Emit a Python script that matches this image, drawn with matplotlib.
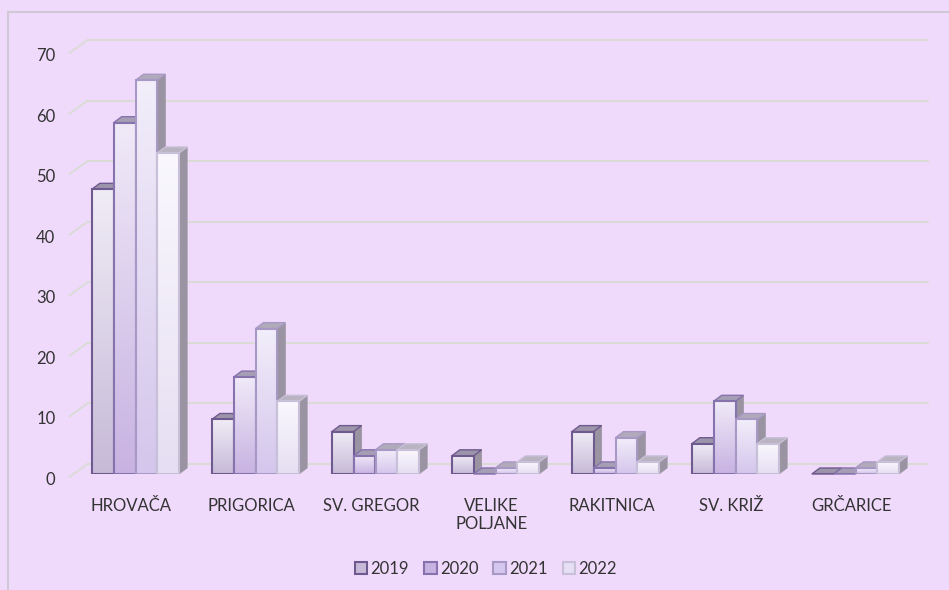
import numpy as np
import matplotlib
matplotlib.use('Agg')
import matplotlib.pyplot as plt
from matplotlib.patches import Polygon, Rectangle
from matplotlib.transforms import ScaledTranslation
from matplotlib.colors import LinearSegmentedColormap

plt.rcParams['font.family'] = ['Lato', 'DejaVu Sans']

mjesta = ['HROVAČA', 'PRIGORICA', 'SV. GREGOR', 'VELIKE\nPOLJANE',
          'RAKITNICA', 'SV. KRIŽ', 'GRČARICE']
godine = ['2019', '2020', '2021', '2022']
v2019 = [47, 9, 7, 3, 7, 5, 0]
v2020 = [58, 16, 3, 0, 1, 12, 0]
v2021 = [65, 24, 4, 1, 6, 9, 1]
v2022 = [53, 12, 4, 2, 2, 5, 2]
serije = [v2019, v2020, v2021, v2022]
y_ticks = [0, 10, 20, 30, 40, 50, 60, 70]

# boje: rub, vrh gradijenta, dno gradijenta, gornja ploha
rubovi = ['#6E5A8E', '#8672AC', '#A898C6', '#C8C0D8']
svijetle = ['#F0ECF6', '#F0EAF8', '#F2EEFA', '#FAF8FE']
tamne = ['#C6BAD8', '#C8B2E2', '#D4C6EC', '#E6DEF2']
vrhovi = ['#9C94AA', '#A69EB4', '#B0AABA', '#BAB4C2']
bok = '#9A94A2'
pozadina = '#F0DAFC'
mreza = '#D8DCD4'

W, H = 949, 590
fig = plt.figure(figsize=(W / 100, H / 100), dpi=100)
fig.patch.set_facecolor(pozadina)
fig.patches.append(Rectangle((8 / W, -0.1), 1.1, 1 - 12 / H + 0.1, transform=fig.transFigure,
                             fill=False, edgecolor='#D0C8D4', linewidth=1.5))

ax = fig.add_axes([75.5 / W, 116 / H, 840 / W, 424 / H])
ax.set_facecolor('none')
ax.set_xlim(-0.5, len(mjesta) - 0.5)
ax.set_ylim(0, 70)
for s in ax.spines.values():
    s.set_visible(False)
ax.set_yticks([])

def px(dx, dy):
    return ax.transData + ScaledTranslation(dx / 100, dy / 100, fig.dpi_scale_trans)

# zadnji zid: mreza i kose linije lijevog zida
x0, x1 = ax.get_xlim()
for t in y_ticks:
    ax.plot([x0, x1], [t, t], color=mreza, lw=1.3, transform=px(12, 10), zorder=1,
            clip_on=False)
    lijevo_front = px(-6, -3).transform((x0, t))
    lijevo_back = px(12, 10).transform((x0, t))
    ax.plot([lijevo_front[0], lijevo_back[0]], [lijevo_front[1], lijevo_back[1]],
            color=mreza, lw=1.3, transform=None, zorder=1, clip_on=False)
    ax.text(x0, t, str(t), transform=px(-20, -6), ha='right', va='center',
            fontsize=12, color='#333333')

# dubina stupaca u jedinicama podataka
sx = 840 / (x1 - x0)
sy = 424 / 70
ddx = 8 / sx
ddy = 6 / sy

sirina = 0.182
x = np.arange(len(mjesta))
grad = np.linspace(0, 1, 256).reshape(-1, 1)
for k, vals in enumerate(serije):
    cmap = LinearSegmentedColormap.from_list('g%d' % k, [tamne[k], svijetle[k]])
    for i, v in enumerate(vals):
        xl = x[i] + (k - 2) * sirina
        xr = xl + sirina
        z = 2 + k * 3
        ax.add_patch(Polygon([(xr, 0), (xr + ddx, ddy), (xr + ddx, v + ddy), (xr, v)],
                             closed=True, facecolor=bok, edgecolor=bok, lw=0.5, zorder=z,
                             clip_on=False))
        ax.add_patch(Polygon([(xl, v), (xl + ddx, v + ddy), (xr + ddx, v + ddy), (xr, v)],
                             closed=True, facecolor=vrhovi[k], edgecolor=rubovi[k], lw=1,
                             zorder=z + 0.5, clip_on=False))
        b = ax.bar(xl, v, width=sirina, align='edge', facecolor='none',
                   edgecolor=rubovi[k], linewidth=1.5, zorder=z + 1)[0]
        if v > 0:
            im = ax.imshow(grad, cmap=cmap, origin='lower', aspect='auto',
                           extent=(xl, xr, 0, v), zorder=z + 0.8)
            im.set_clip_path(b)

ax.set_xlim(x0, x1)
ax.set_ylim(0, 70)
ax.set_xticks(x)
ax.set_xticklabels(mjesta, fontsize=12, color='#333333', va='top')
ax.tick_params(axis='x', length=0, pad=17)
for lab in ax.get_xticklabels():
    lab.set_transform(lab.get_transform() + ScaledTranslation(-0.04, 0, fig.dpi_scale_trans))

rucke = [Rectangle((0, 0), 1, 1, facecolor=tamne[k], edgecolor=rubovi[k], linewidth=1.5)
         for k in range(4)]
fig.legend(rucke, godine, loc='center', bbox_to_anchor=(486 / W, 21 / H), ncol=4,
           frameon=False, fontsize=12, handlelength=0.75, handleheight=0.75,
           handletextpad=0.2, columnspacing=0.9, labelcolor='#333333')

fig.savefig('out.png', dpi=100, facecolor=fig.get_facecolor())
